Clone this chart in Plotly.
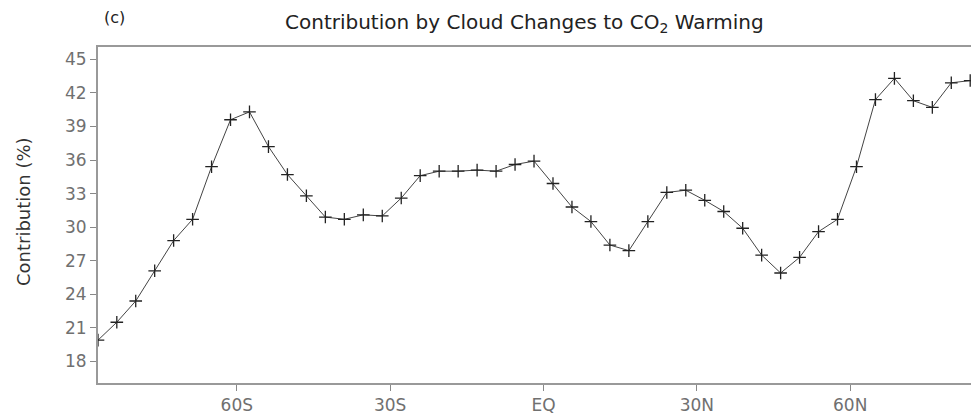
import plotly.graph_objects as go

# T31 Gaussian latitudes (south to north)
lat = [-87.159, -83.479, -79.777, -76.070, -72.362, -68.652, -64.942, -61.232,
       -57.521, -53.810, -50.099, -46.389, -42.678, -38.967, -35.256, -31.545,
       -27.834, -24.123, -20.412, -16.700, -12.989, -9.278, -5.567, -1.856,
       1.856, 5.567, 9.278, 12.989, 16.700, 20.412, 24.123, 27.834,
       31.545, 35.256, 38.967, 42.678, 46.389, 50.099, 53.810, 57.521,
       61.232, 64.942, 68.652, 72.362, 76.070, 79.777, 83.479, 87.159]

contribution = [19.9, 21.5, 23.4, 26.1, 28.8, 30.7, 35.4, 39.6,
                40.3, 37.2, 34.7, 32.8, 30.9, 30.7, 31.1, 31.0,
                32.6, 34.6, 35.0, 35.0, 35.1, 35.0, 35.6, 35.9,
                33.9, 31.8, 30.5, 28.4, 27.9, 30.5, 33.1, 33.3,
                32.4, 31.4, 29.9, 27.5, 25.9, 27.3, 29.6, 30.7,
                35.4, 41.4, 43.3, 41.3, 40.7, 42.9, 43.1, 41.7]

x_tick_vals = [-60, -30, 0, 30, 60]
x_tick_text = ["60S", "30S", "EQ", "30N", "60N"]
y_tick_vals = [18, 21, 24, 27, 30, 33, 36, 39, 42, 45]

FONT = "DejaVu Sans"

# the page body adds an 8px offset; compensate so the plot area sits at
# x 98..979, y 47..383 in the window
OFF = 8
L, T, B = 98 - OFF, 47 - OFF, 35
W, H = 979 - OFF, 418 - OFF
PW = W - L
PH = H - T - B

fig = go.Figure()
fig.add_trace(go.Scatter(
    x=lat, y=contribution, mode="lines+markers",
    line=dict(color="#444444", width=1),
    marker=dict(symbol="cross-thin", size=9, line=dict(color="#222222", width=1.3)),
    cliponaxis=True, showlegend=False,
))

fig.update_layout(
    width=W, height=H,
    margin=dict(l=L, r=0, t=T, b=B),
    paper_bgcolor="white", plot_bgcolor="white",
    font=dict(family=FONT, color="#666666"),
    xaxis=dict(
        range=[-87.159, 85.2], tickmode="array",
        tickvals=x_tick_vals, ticktext=x_tick_text,
        showgrid=False, zeroline=False,
        showline=True, linecolor="#999999", linewidth=2, mirror=True,
        ticks="outside", ticklen=6, tickcolor="#888888", tickwidth=1,
        tickfont=dict(family=FONT, size=17, color="#707070"),
    ),
    yaxis=dict(
        range=[16.07, 46.1], tickmode="array", tickvals=y_tick_vals,
        showgrid=False, zeroline=False,
        showline=True, linecolor="#999999", linewidth=2, mirror=False,
        ticks="outside", ticklen=6, tickcolor="#888888", tickwidth=1,
        tickfont=dict(family=FONT, size=17, color="#707070"),
    ),
    annotations=[
        dict(text="Contribution by Cloud Changes to CO<sub>2</sub> Warming",
             xref="paper", yref="paper", x=(283 - 98) / PW, y=1 + (47 - 23) / PH,
             xanchor="left", yanchor="middle", showarrow=False,
             font=dict(family=FONT, size=20, color="#222222")),
        dict(text="(c)", xref="paper", yref="paper",
             x=(102 - 98) / PW, y=1 + (47 - 17) / PH,
             xanchor="left", yanchor="middle", showarrow=False,
             font=dict(family=FONT, size=16, color="#222222")),
        dict(text="Contribution (%)", xref="paper", yref="paper",
             x=(23 - 98) / PW, y=0.5 + (215 - 212) / PH, textangle=-90,
             xanchor="center", yanchor="middle", showarrow=False,
             font=dict(family=FONT, size=18, color="#333333")),
    ],
)

fig.write_html("out.html")
